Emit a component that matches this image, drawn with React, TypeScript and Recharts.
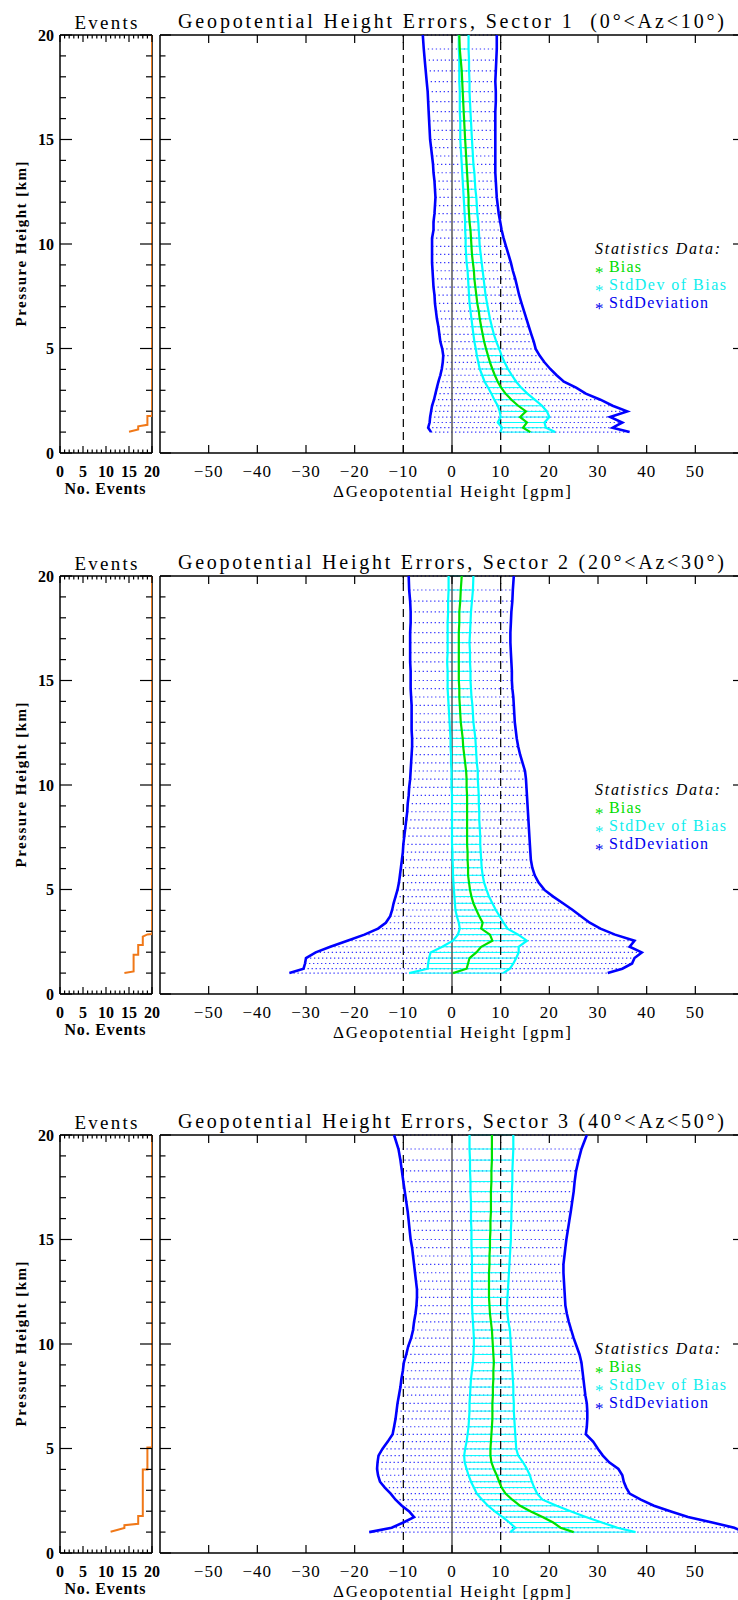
import React from "react";
import { ScatterChart, Scatter, XAxis, YAxis, ReferenceLine } from "recharts";

const SERIF = '"Liberation Serif", "Times New Roman", serif';

// pressure-height levels [km] shared by all sectors
const LEVELS = [
  1.0, 1.21, 1.46, 1.72, 1.99, 2.26, 2.55, 2.84, 3.13, 3.41, 3.72, 4.02, 4.34,
  4.66, 4.98, 5.33, 5.68, 6.04, 6.42, 6.79, 7.16, 7.55, 7.94, 8.33, 8.72, 9.11,
  9.5, 9.89, 10.28, 10.67, 11.06, 11.45, 11.84, 12.23, 12.62, 13.01, 13.41,
  13.81, 14.21, 14.61, 15.0, 15.44, 15.89, 16.33, 16.81, 17.29, 17.77, 18.28,
  18.8, 19.33, 20.0,
];

// sector 1: bias - std, bias + std, bias -/+ std of bias, bias [gpm]
const S1_LO = [-4.3, -4.9, -4.6, -4.5, -4.3, -4.1, -3.7, -3.4, -3.1, -2.8, -2.4, -2.1, -1.9, -1.8, -2.0, -2.4, -2.6, -2.8, -3.1, -3.3, -3.5, -3.6, -3.8, -3.9, -4.0, -4.1, -4.1, -4.1, -4.1, -3.8, -3.8, -3.6, -3.5, -3.4, -3.5, -3.6, -3.8, -3.9, -4.1, -4.3, -4.5, -4.6, -4.7, -4.8, -4.9, -5.0, -5.2, -5.4, -5.6, -5.8, -6.0];
const S1_HI = [36.5, 33.0, 35.0, 32.5, 36.0, 33.0, 30.5, 27.5, 25.5, 23.0, 21.5, 20.2, 19.0, 18.0, 17.2, 16.8, 16.3, 15.8, 15.3, 14.8, 14.3, 13.8, 13.4, 13.0, 12.5, 12.1, 11.6, 11.1, 10.6, 10.2, 9.9, 9.6, 9.4, 9.2, 9.1, 9.0, 8.9, 8.9, 8.9, 8.9, 8.9, 8.9, 8.9, 8.9, 9.0, 9.0, 8.9, 9.0, 9.1, 9.2, 9.2];
const S1_CLO = [9.9, 10.3, 9.4, 10.0, 9.8, 9.4, 8.7, 8.1, 7.4, 6.7, 6.2, 5.7, 5.4, 5.1, 4.9, 4.6, 4.4, 4.2, 4.0, 3.8, 3.6, 3.5, 3.4, 3.3, 3.2, 3.0, 2.9, 2.8, 2.8, 2.7, 2.7, 2.6, 2.5, 2.4, 2.3, 2.2, 2.1, 2.0, 1.9, 1.8, 1.7, 1.7, 1.7, 1.6, 1.6, 1.6, 1.5, 1.5, 1.5, 1.4, 1.4];
const S1_CHI = [21.2, 19.3, 19.0, 20.0, 19.5, 18.5, 17.0, 15.5, 14.2, 13.2, 12.3, 11.5, 10.8, 10.2, 9.7, 9.1, 8.6, 8.2, 7.8, 7.5, 7.2, 6.9, 6.7, 6.5, 6.3, 6.1, 5.9, 5.7, 5.6, 5.5, 5.4, 5.2, 5.1, 5.0, 4.8, 4.7, 4.6, 4.4, 4.3, 4.2, 4.1, 4.0, 3.9, 3.8, 3.7, 3.6, 3.6, 3.5, 3.5, 3.4, 3.4];
const S1_BIAS = [16.1, 14.6, 15.4, 14.0, 15.2, 13.6, 12.2, 11.0, 10.1, 9.4, 8.8, 8.3, 7.8, 7.4, 7.0, 6.6, 6.3, 6.0, 5.7, 5.5, 5.2, 5.0, 4.8, 4.6, 4.5, 4.3, 4.1, 4.0, 3.9, 3.8, 3.6, 3.5, 3.4, 3.4, 3.3, 3.2, 3.1, 3.0, 2.9, 2.8, 2.7, 2.6, 2.5, 2.4, 2.3, 2.2, 2.1, 2.0, 1.8, 1.6, 1.5];

// sector 2
const S2_LO = [-33.4, -30.5, -30.2, -30.0, -28.0, -25.0, -21.5, -18.0, -15.2, -13.6, -12.7, -12.3, -12.0, -11.6, -11.2, -10.9, -10.7, -10.5, -10.3, -10.1, -10.0, -9.8, -9.6, -9.4, -9.2, -9.1, -8.9, -8.8, -8.6, -8.5, -8.4, -8.3, -8.2, -8.2, -8.3, -8.3, -8.3, -8.3, -8.4, -8.5, -8.5, -8.5, -8.6, -8.6, -8.6, -8.6, -8.5, -8.5, -8.6, -8.8, -8.9];
const S2_HI = [32.0, 35.0, 37.0, 37.5, 39.0, 36.5, 37.5, 33.5, 30.5, 28.3, 26.5, 24.8, 22.8, 20.8, 19.0, 17.8, 17.0, 16.5, 16.2, 16.1, 16.0, 15.9, 15.8, 15.7, 15.6, 15.5, 15.4, 15.3, 15.2, 15.0, 14.5, 14.0, 13.6, 13.3, 13.1, 12.9, 12.8, 12.7, 12.6, 12.4, 12.3, 12.3, 12.2, 12.1, 12.0, 12.0, 12.1, 12.2, 12.4, 12.5, 12.7];
const S2_CLO = [-8.8, -5.0, -4.9, -4.7, -4.4, -2.0, 0.2, 1.2, 1.6, 1.4, 1.0, 0.7, 0.6, 0.5, 0.4, 0.3, 0.2, 0.2, 0.1, 0.1, 0.0, 0.0, 0.0, 0.0, 0.0, 0.0, 0.0, -0.1, -0.1, -0.1, -0.2, -0.2, -0.3, -0.3, -0.4, -0.5, -0.6, -0.7, -0.8, -0.9, -0.9, -0.9, -1.0, -0.9, -0.9, -0.9, -0.9, -0.8, -0.8, -0.7, -0.7];
const S2_CHI = [10.5, 11.9, 12.6, 13.2, 13.7, 13.7, 15.4, 13.6, 11.4, 10.6, 9.8, 9.0, 8.3, 7.6, 7.1, 6.6, 6.3, 6.1, 6.0, 5.9, 5.8, 5.8, 5.7, 5.6, 5.6, 5.5, 5.5, 5.4, 5.3, 5.3, 5.1, 5.0, 4.9, 4.8, 4.6, 4.4, 4.3, 4.2, 4.0, 3.9, 3.8, 3.8, 3.7, 3.7, 3.6, 3.7, 3.8, 3.9, 4.1, 4.3, 4.4];
const S2_BIAS = [0.2, 3.0, 3.3, 3.6, 5.0, 6.0, 8.3, 7.8, 6.0, 6.3, 5.6, 5.0, 4.4, 4.0, 3.7, 3.5, 3.3, 3.3, 3.2, 3.2, 3.1, 3.1, 3.1, 3.1, 3.1, 3.1, 3.1, 3.0, 3.0, 2.9, 2.7, 2.5, 2.3, 2.2, 2.0, 1.8, 1.7, 1.6, 1.5, 1.5, 1.4, 1.4, 1.4, 1.4, 1.4, 1.4, 1.5, 1.5, 1.7, 1.8, 2.0];

// sector 3
const S3_LO = [-17.0, -12.4, -10.0, -7.8, -8.8, -10.3, -11.6, -12.6, -13.8, -14.8, -15.2, -15.4, -15.3, -15.1, -14.3, -13.2, -12.2, -11.9, -11.6, -11.4, -11.2, -10.9, -10.6, -10.4, -10.1, -9.9, -9.4, -9.0, -8.4, -8.0, -7.8, -7.5, -7.3, -7.2, -7.2, -7.4, -7.6, -7.8, -8.0, -8.2, -8.5, -8.7, -8.9, -9.1, -9.4, -9.7, -10.0, -10.3, -10.6, -11.0, -11.9];
const S3_HI = [60.0, 58.0, 53.5, 48.5, 45.0, 41.5, 38.8, 36.5, 35.8, 35.3, 35.0, 34.2, 32.3, 31.0, 30.0, 29.0, 27.5, 27.7, 27.8, 27.8, 27.7, 27.4, 27.2, 27.0, 26.8, 26.6, 26.2, 25.6, 25.0, 24.5, 24.0, 23.6, 23.3, 23.2, 23.1, 23.0, 22.9, 22.9, 23.1, 23.3, 23.5, 23.8, 24.1, 24.4, 24.7, 25.0, 25.2, 25.5, 26.0, 26.6, 27.7];
const S3_CLO = [12.0, 13.0, 11.8, 10.4, 8.8, 7.4, 6.2, 5.1, 4.5, 3.9, 3.4, 3.0, 2.6, 2.5, 2.7, 3.0, 3.2, 3.4, 3.5, 3.6, 3.6, 3.7, 3.8, 3.9, 4.1, 4.3, 4.4, 4.5, 4.5, 4.4, 4.3, 4.2, 4.1, 4.1, 4.1, 4.1, 4.1, 4.1, 4.1, 4.0, 4.0, 4.0, 3.9, 3.9, 3.9, 3.8, 3.8, 3.7, 3.7, 3.6, 3.6];
const S3_CHI = [37.7, 34.0, 30.8, 27.5, 24.5, 21.5, 18.6, 17.5, 16.9, 16.4, 16.0, 15.4, 14.6, 13.6, 13.2, 13.1, 13.0, 12.9, 12.8, 12.7, 12.7, 12.6, 12.6, 12.5, 12.4, 12.3, 12.2, 12.1, 12.0, 11.9, 11.6, 11.4, 11.3, 11.4, 11.5, 11.6, 11.7, 11.8, 11.9, 12.0, 12.1, 12.1, 12.2, 12.2, 12.3, 12.3, 12.4, 12.4, 12.5, 12.6, 12.6];
const S3_BIAS = [25.0, 22.3, 20.8, 18.6, 16.2, 14.0, 12.4, 11.0, 10.2, 9.7, 9.2, 8.6, 8.1, 7.9, 7.9, 8.0, 8.1, 8.2, 8.3, 8.3, 8.3, 8.4, 8.4, 8.5, 8.5, 8.6, 8.5, 8.4, 8.3, 8.2, 8.0, 7.8, 7.7, 7.6, 7.6, 7.6, 7.6, 7.7, 7.7, 7.8, 7.8, 7.9, 7.9, 8.0, 8.0, 8.0, 8.1, 8.1, 8.2, 8.2, 8.2];

// number of events per height (step outline)
const EV1_KM = [20, 1.77, 1.77, 1.35, 1.28, 1.13, 1.02];
const EV1_N = [20, 20, 19, 19, 17, 17, 15];
const EV2_KM = [20, 2.87, 2.85, 2.75, 2.35, 2.35, 1.88, 1.88, 1.08, 1.0];
const EV2_N = [20, 20, 19, 18, 18, 17, 17, 16, 16, 14];
const EV3_KM = [20, 5.05, 5.05, 4.0, 4.0, 1.77, 1.77, 1.4, 1.33, 1.2, 1.02];
const EV3_N = [20, 20, 19, 19, 18, 18, 17, 17, 14, 14, 11];

const KM_TICKS = [0, 1, 2, 3, 4, 5, 6, 7, 8, 9, 10, 11, 12, 13, 14, 15, 16, 17, 18, 19, 20];
const EVENT_TICKS = [0, 1, 2, 3, 4, 5, 6, 7, 8, 9, 10, 11, 12, 13, 14, 15, 16, 17, 18, 19, 20];
const GPM_TICKS = [-50, -40, -30, -20, -10, 0, 10, 20, 30, 40, 50];
const GUIDES = [-10, 10];

const BLUE = "#0000ff";
const DOTS = "#3535ff";
const CYAN = "#00ffff";
const GREEN = "#00e000";
const ORANGE = "#f07818";

const LEGEND = [
  { label: "Bias", color: "#00dd00", width: 32 },
  { label: "StdDev of Bias", color: "#10eeee", width: 117 },
  { label: "StdDeviation", color: "#0000ee", width: 99 },
];

type Sector = {
  title: string;
  top: number;
  lo: number[];
  hi: number[];
  cLo: number[];
  cHi: number[];
  bias: number[];
  evKm: number[];
  evN: number[];
};

const SECTORS: Sector[] = [
  { title: "Geopotential Height Errors, Sector 1  (0°<Az<10°)", top: 0, lo: S1_LO, hi: S1_HI, cLo: S1_CLO, cHi: S1_CHI, bias: S1_BIAS, evKm: EV1_KM, evN: EV1_N },
  { title: "Geopotential Height Errors, Sector 2 (20°<Az<30°)", top: 541, lo: S2_LO, hi: S2_HI, cLo: S2_CLO, cHi: S2_CHI, bias: S2_BIAS, evKm: EV2_KM, evN: EV2_N },
  { title: "Geopotential Height Errors, Sector 3 (40°<Az<50°)", top: 1100, lo: S3_LO, hi: S3_HI, cLo: S3_CLO, cHi: S3_CHI, bias: S3_BIAS, evKm: EV3_KM, evN: EV3_N },
];

// plot area spans y = 35..453 inside each 500px chart; the 1px axes sit just outside it
const CHART_H = 500;
const MARGIN_TOP = 34;
const MARGIN_BOTTOM = 46;
const AXIS = { stroke: "#000", strokeWidth: 1.5 };

const profile = (xs: number[]) => LEVELS.map((h, i) => ({ x: xs[i], y: h }));
const steps = (km: number[], n: number[]) => km.map((h, i) => ({ x: n[i], y: h }));
const noMark = () => <g />;
const fmtGpm = (v: number) => (v < 0 ? `\u2212${-v}` : `${v}`);

// inward-pointing ticks on a height axis
const kmTick =
  (side: "left" | "right", labels: boolean, majorLen: number, minorLen: number) =>
  (props: any) => {
    const { x, y, payload } = props;
    const v = Number(payload.value);
    const major = v % 5 === 0;
    const d = side === "left" ? 1 : -1;
    return (
      <g>
        <line x1={x} y1={y} x2={x + d * (major ? majorLen : minorLen)} y2={y} stroke="#000" strokeWidth={1.2} />
        {labels && major && (
          <text x={x - 6} y={y} textAnchor="end" dominantBaseline="central" fontFamily={SERIF} fontWeight="bold" fontSize={16} fill="#000">
            {v}
          </text>
        )}
      </g>
    );
  };

// inward-pointing ticks on a horizontal axis
const hTick =
  (side: "top" | "bottom", label: null | ((v: number) => string), major: (v: number) => boolean, majorLen: number, minorLen: number, bold: boolean) =>
  (props: any) => {
    const { x, y, payload } = props;
    const v = Number(payload.value);
    const big = major(v);
    const d = side === "bottom" ? -1 : 1;
    return (
      <g>
        <line x1={x} y1={y} x2={x} y2={y + d * (big ? majorLen : minorLen)} stroke="#000" strokeWidth={1.2} />
        {label && big && (
          <text x={x} y={y + 18} textAnchor="middle" dominantBaseline="central" fontFamily={SERIF} fontWeight={bold ? "bold" : "normal"} fontSize={bold ? 16 : 17} letterSpacing={bold ? 0 : 1} fill="#000">
            {label(v)}
          </text>
        )}
      </g>
    );
  };

const everyFive = (v: number) => v % 5 === 0;
const always = () => true;

const axisCommon = {
  type: "number" as const,
  interval: 0 as const,
  allowDataOverflow: true,
  tickLine: false,
  tickSize: 0,
  tickMargin: 0,
  axisLine: AXIS,
};

function EventsChart({ s }: { s: Sector }) {
  return (
    <ScatterChart width={160} height={CHART_H} margin={{ top: MARGIN_TOP, right: 7, bottom: MARGIN_BOTTOM, left: 59 }}>
      <XAxis xAxisId="b" {...axisCommon} dataKey="x" domain={[0, 20]} ticks={EVENT_TICKS} height={1} tick={hTick("bottom", (v) => `${v}`, everyFive, 7, 3.5, true)} />
      <XAxis xAxisId="t" {...axisCommon} orientation="top" dataKey="x" domain={[0, 20]} ticks={EVENT_TICKS} height={1} tick={hTick("top", null, everyFive, 7, 3.5, true)} />
      <YAxis yAxisId="l" {...axisCommon} dataKey="y" domain={[0, 20]} ticks={KM_TICKS} width={1} tick={kmTick("left", true, 12, 6)} />
      <YAxis yAxisId="r" {...axisCommon} orientation="right" dataKey="y" domain={[0, 20]} ticks={KM_TICKS} width={1} tick={kmTick("right", false, 12, 6)} />
      <Scatter xAxisId="b" yAxisId="l" data={steps(s.evKm, s.evN)} line={{ stroke: ORANGE, strokeWidth: 2 }} shape={noMark} isAnimationActive={false} />
    </ScatterChart>
  );
}

function ProfileChart({ s }: { s: Sector }) {
  const series = [
    { key: "lo", xs: s.lo, color: BLUE, w: 2.6 },
    { key: "hi", xs: s.hi, color: BLUE, w: 2.6 },
    { key: "clo", xs: s.cLo, color: CYAN, w: 2.2 },
    { key: "chi", xs: s.cHi, color: CYAN, w: 2.2 },
    { key: "bias", xs: s.bias, color: GREEN, w: 2.2 },
  ];
  return (
    <ScatterChart width={610} height={CHART_H} margin={{ top: MARGIN_TOP, right: 15, bottom: MARGIN_BOTTOM, left: 9 }}>
      <XAxis xAxisId="b" {...axisCommon} dataKey="x" domain={[-60, 60]} ticks={GPM_TICKS} height={1} tick={hTick("bottom", fmtGpm, always, 8, 8, false)} />
      <XAxis xAxisId="t" {...axisCommon} orientation="top" dataKey="x" domain={[-60, 60]} ticks={GPM_TICKS} height={1} tick={hTick("top", null, always, 8, 8, false)} />
      <YAxis yAxisId="l" {...axisCommon} dataKey="y" domain={[0, 20]} ticks={KM_TICKS} width={1} tick={kmTick("left", false, 11, 5.5)} />
      <YAxis yAxisId="r" {...axisCommon} orientation="right" dataKey="y" domain={[0, 20]} ticks={KM_TICKS} width={1} tick={kmTick("right", false, 11, 5.5)} />

      {LEVELS.map((h, i) => (
        <ReferenceLine key={`d${i}`} xAxisId="b" yAxisId="l" segment={[{ x: s.lo[i], y: h }, { x: s.hi[i], y: h }]} stroke={DOTS} strokeWidth={1.2} strokeDasharray="1.3 2.7" />
      ))}
      {LEVELS.map((h, i) => (
        <ReferenceLine key={`c${i}`} xAxisId="b" yAxisId="l" segment={[{ x: s.cLo[i], y: h }, { x: s.cHi[i], y: h }]} stroke={CYAN} strokeWidth={1} />
      ))}
      <ReferenceLine xAxisId="b" yAxisId="l" x={0} stroke="#555" strokeWidth={1.5} />
      {GUIDES.map((g) => (
        <ReferenceLine key={`g${g}`} xAxisId="b" yAxisId="l" x={g} stroke="#000" strokeWidth={1.2} strokeDasharray="8 5" />
      ))}

      {series.map((p) => (
        <Scatter key={p.key} xAxisId="b" yAxisId="l" data={profile(p.xs)} line={{ stroke: p.color, strokeWidth: p.w }} shape={noMark} isAnimationActive={false} />
      ))}
    </ScatterChart>
  );
}

function SectorPanel({ s }: { s: Sector }) {
  return (
    <div style={{ position: "absolute", left: 0, top: s.top, width: 738, height: 505 }}>
      <div style={{ position: "absolute", left: 0, top: 0 }}>
        <EventsChart s={s} />
      </div>
      <div style={{ position: "absolute", left: 150, top: 0 }}>
        <ProfileChart s={s} />
      </div>
      <svg width={738} height={505} style={{ position: "absolute", left: 0, top: 0, pointerEvents: "none" }} fontFamily={SERIF} fill="#000">
        <text x={451} y={28} textAnchor="middle" fontSize={20} textLength={546} lengthAdjust="spacing" style={{ whiteSpace: "pre" }}>
          {s.title}
        </text>
        <text x={106} y={29} textAnchor="middle" fontSize={19} textLength={63} lengthAdjust="spacing">
          Events
        </text>
        <text x={21} y={244} transform="rotate(-90 21 244)" textAnchor="middle" dominantBaseline="central" fontSize={15} fontWeight="bold" textLength={165} lengthAdjust="spacing">
          Pressure Height [km]
        </text>
        <text x={105} y={488} textAnchor="middle" dominantBaseline="central" fontSize={16} fontWeight="bold" textLength={81} lengthAdjust="spacing">
          No. Events
        </text>
        <text x={452} y={491} textAnchor="middle" dominantBaseline="central" fontSize={17} textLength={238} lengthAdjust="spacing">
          ΔGeopotential Height [gpm]
        </text>
        <text x={595} y={254} fontSize={16} fontStyle="italic" textLength={125} lengthAdjust="spacing">
          Statistics Data:
        </text>
        {LEGEND.map((item, i) => (
          <g key={item.label} fill={item.color}>
            <text x={595} y={278 + 18 * i} fontSize={17}>
              *
            </text>
            <text x={609} y={272 + 18 * i} fontSize={16} textLength={item.width} lengthAdjust="spacing">
              {item.label}
            </text>
          </g>
        ))}
      </svg>
    </div>
  );
}

export default function App() {
  return (
    <div style={{ position: "absolute", left: 0, top: 0, width: 738, height: 1600, overflow: "hidden", background: "#fff" }}>
      {SECTORS.map((s) => (
        <SectorPanel key={s.title} s={s} />
      ))}
    </div>
  );
}
